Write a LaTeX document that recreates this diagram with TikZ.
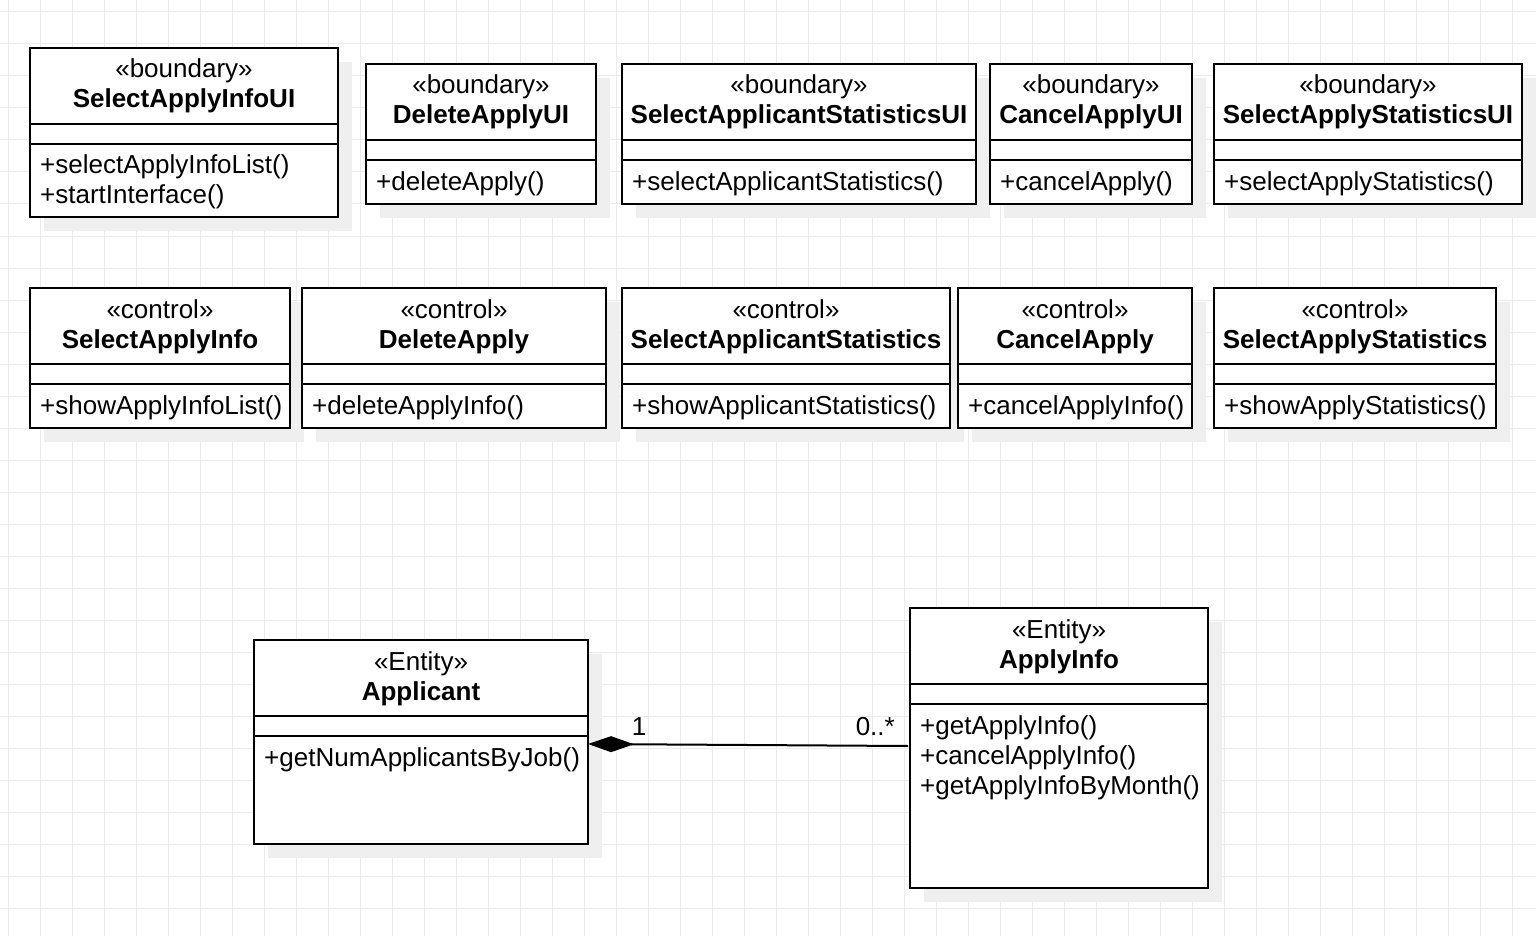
\documentclass[tikz,border=0pt]{standalone}
\usepackage{fontspec}
\setmainfont{Liberation Sans}
\usetikzlibrary{arrows.meta}

\definecolor{gridgray}{HTML}{EBEBEB}
\definecolor{shadowgray}{HTML}{EFEFEF}

\tikzset{
  gridline/.style={draw=gridgray, line width=1pt},
  boxshadow/.style={fill=shadowgray},
  classbox/.style={draw=black, fill=white, line width=2pt, inner sep=0pt, outer sep=0pt},
  compline/.style={draw=black, line width=2pt},
  assoc/.style={draw=black, line width=2pt},
  txt/.style={inner sep=0pt, font=\fontsize{26}{30}\selectfont}
}

% #1 node name, #2 left, #3 top, #4 right, #5 bottom,
% #6 stereotype, #7 class name, #8 comma separated operations
\newcommand\umlclass[8]{%
  \fill[boxshadow] ({#2+14},{#3+14}) rectangle ({#4+14},{#5+14});
  \node[classbox, minimum width={#4-#2}, minimum height={#5-#3}, anchor=north west] (#1) at (#2,#3) {};
  \draw[compline] ({#2},{#3+76}) -- ({#4},{#3+76});
  \draw[compline] ({#2},{#3+96}) -- ({#4},{#3+96});
  \node[txt, anchor=base] (#1-st) at ({(#2+#4)/2},{#3+30}) {«#6»};
  \node[txt, anchor=base, font=\fontsize{26}{30}\selectfont\bfseries] (#1-nm) at ({(#2+#4)/2},{#3+60}) {#7};
  \foreach \op [count=\i] in {#8} {
    \node[txt, anchor=base west] (#1-op\i) at ({#2+10},{#3+126+30*(\i-1)}) {\op};
  }
}

\begin{document}
\begin{tikzpicture}[x=1pt, y=-1pt]
  \useasboundingbox (0,0) rectangle (1536,936);
  \fill[white] (0,0) rectangle (1536,936);

  % background grid
  \foreach \gx in {8,40,...,1536} \draw[gridline] (\gx,0) -- (\gx,936);
  \foreach \gy in {12,44,...,936} \draw[gridline] (0,\gy) -- (1536,\gy);

  % boundary classes
  \umlclass{selInfoUI}{30}{48}{338}{217}{boundary}{SelectApplyInfoUI}{+selectApplyInfoList(),+startInterface()}
  \umlclass{delUI}{366}{64}{596}{204}{boundary}{DeleteApplyUI}{+deleteApply()}
  \umlclass{selApplicantUI}{622}{64}{976}{204}{boundary}{SelectApplicantStatisticsUI}{+selectApplicantStatistics()}
  \umlclass{cancelUI}{990}{64}{1192}{204}{boundary}{CancelApplyUI}{+cancelApply()}
  \umlclass{selStatsUI}{1214}{64}{1522}{204}{boundary}{SelectApplyStatisticsUI}{+selectApplyStatistics()}

  % control classes
  \umlclass{selInfo}{30}{288}{290}{428}{control}{SelectApplyInfo}{+showApplyInfoList()}
  \umlclass{del}{302}{288}{606}{428}{control}{DeleteApply}{+deleteApplyInfo()}
  \umlclass{selApplicant}{622}{288}{950}{428}{control}{SelectApplicantStatistics}{+showApplicantStatistics()}
  \umlclass{cancel}{958}{288}{1192}{428}{control}{CancelApply}{+cancelApplyInfo()}
  \umlclass{selStats}{1214}{288}{1496}{428}{control}{SelectApplyStatistics}{+showApplyStatistics()}

  % entity classes
  \umlclass{applicant}{254}{640}{588}{844}{Entity}{Applicant}{+getNumApplicantsByJob()}
  \umlclass{applyInfo}{910}{608}{1208}{888}{Entity}{ApplyInfo}{+getApplyInfo(),+cancelApplyInfo(),+getApplyInfoByMonth()}

  % composition between Applicant and ApplyInfo
  \draw[assoc, {Diamond[length=46pt,width=16pt]}-]
    ([yshift=-104pt]applicant.north east) -- ([yshift=-138pt,xshift=-2pt]applyInfo.north west);
  \node[txt, anchor=base] (mult1) at (639,735) {1};
  \node[txt, anchor=base east] (mult2) at (895,735) {0..*};
\end{tikzpicture}
\end{document}
